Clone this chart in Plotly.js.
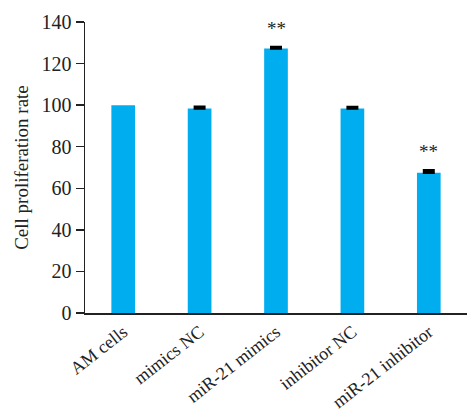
<!DOCTYPE html>
<html>
<head>
<meta charset="utf-8">
<script src="https://cdn.plot.ly/plotly-3.0.1.min.js"></script>
<style>html,body{margin:0;padding:0;background:#fff;}#chart{width:468px;height:414px;}</style>
</head>
<body>
<div id="chart"></div>
<script>
// Groups and measured proliferation rates (NaN = no error bar for the untreated cells)
var groups = ["AM cells", "mimics NC", "miR-21 mimics", "inhibitor NC", "miR-21 inhibitor"];
var rates = [100, 98.4, 127.2, 98.4, 67.5];
var errors = [NaN, 0.8, 0.8, 0.7, 1.2];
var marks = ["", "", "**", "", "**"];
var yTicks = [0, 20, 40, 60, 80, 100, 120, 140];

var serif = "Liberation Serif, Times New Roman, serif";

var trace = {
  type: "bar",
  x: groups,
  y: rates,
  width: 0.31,
  marker: {color: "#00AEEF", line: {width: 0}},
  error_y: {
    type: "data",
    symmetric: false,
    array: errors,
    arrayminus: errors.map(function (e) { return isNaN(e) ? NaN : 0; }),
    color: "#000",
    thickness: 2.5,
    width: 6
  },
  hoverinfo: "x+y"
};

var annotations = [];
groups.forEach(function (g, i) {
  if (marks[i]) {
    annotations.push({
      x: g, y: rates[i] + (isNaN(errors[i]) ? 0 : errors[i]),
      xref: "x", yref: "y",
      text: marks[i], showarrow: false,
      yanchor: "bottom", yshift: 6,
      font: {family: serif, size: 19, color: "#222"}
    });
  }
});

var layout = {
  width: 468, height: 414,
  margin: {l: 85, r: 1, t: 22, b: 101},
  paper_bgcolor: "#fff", plot_bgcolor: "#fff",
  showlegend: false,
  font: {family: serif, size: 19, color: "#222"},
  xaxis: {
    type: "category",
    range: [-0.5, 4.5],
    showline: true, linecolor: "#222", linewidth: 1.5,
    ticks: "", tickangle: -38,
    tickfont: {family: serif, size: 18, color: "#222"},
    showgrid: false, zeroline: false
  },
  yaxis: {
    range: [0, 140],
    tickvals: yTicks,
    showline: true, linecolor: "#222", linewidth: 1.5,
    ticks: "outside", ticklen: 8, tickwidth: 1.5, tickcolor: "#222",
    tickfont: {family: serif, size: 20, color: "#222"},
    showgrid: false, zeroline: false,
    title: {text: "Cell proliferation rate", font: {family: serif, size: 19, color: "#222"}, standoff: 8}
  },
  annotations: annotations
};

Plotly.newPlot("chart", [trace], layout, {displayModeBar: false, staticPlot: true});
</script>
</body>
</html>
